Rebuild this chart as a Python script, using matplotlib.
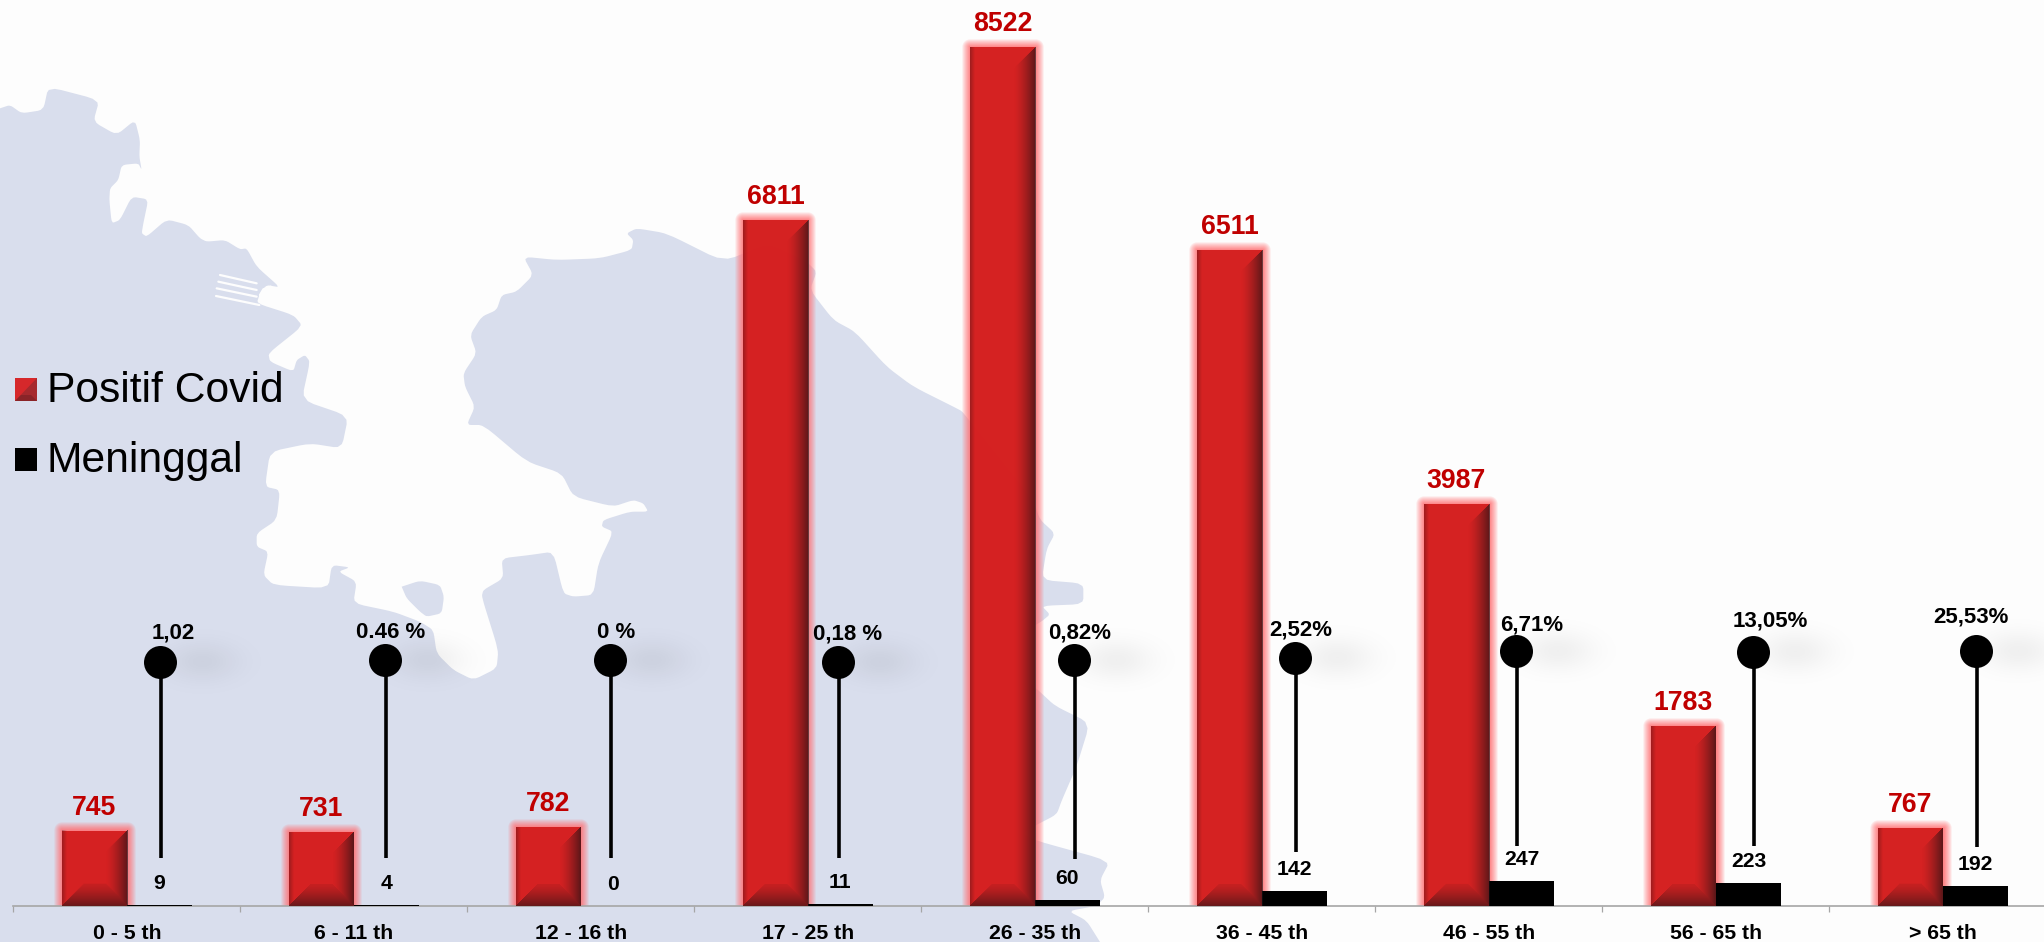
#!/usr/bin/env python3
"""Positive Covid cases and deaths by age group, with case fatality pins."""
import matplotlib
matplotlib.use("Agg")
import matplotlib.pyplot as plt
import numpy as np
from matplotlib.colors import to_rgb
from matplotlib.patches import Polygon, Rectangle

plt.rcParams["font.family"] = ["Liberation Sans", "DejaVu Sans"]

age_groups = ["0 - 5 th", "6 - 11 th", "12 - 16 th", "17 - 25 th", "26 - 35 th",
              "36 - 45 th", "46 - 55 th", "56 - 65 th", "> 65 th"]
positif = [745, 731, 782, 6811, 8522, 6511, 3987, 1783, 767]
meninggal = [9, 4, 0, 11, 60, 142, 247, 223, 192]
persen = ["1,02", "0.46 %", "0 %", "0,18 %", "0,82%", "2,52%", "6,71%", "13,05%", "25,53%"]

# pin layout (the pins are not to any scale of the data)
pin_x = [0.145, 0.137, 0.128, 0.132, 0.172, 0.145, 0.119, 0.163, 0.145]
pin_top = [2422, 2442, 2442, 2420, 2442, 2461, 2533, 2516, 2533]
pin_bottom = [473, 473, 473, 473, 463, 533, 595, 595, 585]
pct_dx = [13.7, 5.6, 6, 9.5, 6, 6, 15.4, 17, -4.7]
pct_dy = [29, 27, 27, 28, 27, 28, 26, 31, 34]

W, H = 2044, 942
GROUP_PX = 227.0
LEFT_PX = 13.4
BASE_PX = 905.6
PX_PER_UNIT = 0.1007
BAR_W = 65 / GROUP_PX
GLOW_PX = 8
BEVEL_PX = 22

RED = "#cf1212"
LABEL_RED = "#c00000"
LAND = "#d9deed"
PAPER = "#fdfdfd"
AXIS_GREY = "#a6a6a6"


def crop(points, ox, oy, sx=3.0, sy=3.0):
    return [(ox + x / sx, oy + y / sy) for x, y in points]


def smooth(points, rounds=2, cut=0.15):
    # corner cutting, the traced outline is too angular otherwise
    pts = np.array(points, dtype=float)
    for _ in range(rounds):
        a, b = pts[:-1], pts[1:]
        inner = np.column_stack([(1 - cut) * a + cut * b, cut * a + (1 - cut) * b]).reshape(-1, 2)
        pts = np.vstack([pts[0], inner, pts[-1]])
    return pts


coast = (
    crop([(0, 145), (30, 135), (65, 160), (130, 150), (145, 80), (298, 120), (280, 185), (350, 225),
          (405, 180), (420, 240), (418, 290), (425, 330), (415, 310), (365, 315), (355, 360), (330, 385),
          (328, 420), (335, 490), (360, 480), (395, 410), (445, 418), (430, 490), (425, 520), (440, 530),
          (500, 478), (565, 495), (600, 535), (620, 545), (675, 540), (720, 568), (740, 565), (770, 620),
          (840, 682), (800, 675), (780, 700), (770, 730), (880, 765), (908, 798), (805, 880), (810, 905),
          (880, 935), (890, 900), (915, 885), (930, 905), (905, 1020), (1045, 1068)], 0, 60)
    + crop([(365, 355), (270, 340), (150, 365), (135, 470), (180, 480), (170, 570), (110, 610), (110, 650),
            (145, 665), (130, 735), (160, 765), (325, 775), (335, 705), (390, 712), (355, 725), (410, 755),
            (400, 820), (520, 845), (600, 875), (640, 900), (650, 970), (700, 1020), (760, 1050), (830, 1015),
            (835, 960), (785, 800), (790, 780), (850, 745), (845, 685), (930, 675), (1000, 665), (1030, 790),
            (1060, 800), (1120, 795), (1135, 700), (1180, 605), (1145, 590), (1150, 570), (1230, 545),
            (1285, 545), (1270, 520), (1240, 510), (1180, 530), (1060, 500), (1025, 430), (920, 395),
            (790, 285), (740, 285), (765, 230), (735, 170), (730, 130), (770, 70)], 220, 330)
    + crop([(90, 405), (125, 350), (170, 330), (185, 285), (230, 275), (280, 225), (250, 170), (350, 180),
            (480, 175), (575, 150), (580, 120), (560, 100), (590, 85), (680, 100), (850, 185), (985, 130),
            (1100, 185), (1130, 215), (1110, 270), (1180, 360), (1245, 395), (1340, 500), (1420, 560),
            (1560, 630)], 440, 200)
    + crop([(190, 95), (400, 350), (420, 405), (465, 445), (440, 490), (425, 580), (550, 590), (550, 650),
            (425, 655), (450, 680), (425, 700), (390, 720), (390, 880), (415, 900), (465, 945), (570, 995),
            (530, 1120), (485, 1220), (470, 1260), (400, 1295), (370, 1315), (405, 1335), (630, 1395),
            (600, 1450), (615, 1500), (590, 1525), (505, 1540), (560, 1568)], 900, 380, 3.0, 2.9)
    + [(1100, 942)]
)
map_corners = [(1100, 960), (-20, 960), (-20, 108)]
bay = crop([(545, 770), (600, 752), (660, 765), (672, 800), (665, 850), (620, 860), (600, 845), (560, 805), (545, 770)], 220, 330)
port_lines = [[(660, 645), (770, 670)], [(655, 665), (770, 690)], [(650, 685), (770, 710)], [(648, 708), (778, 735)],
              [(812, 680), (790, 688), (780, 705), (795, 725)]]


def glow_alpha(w, h, pad):
    ys, xs = np.mgrid[0:h + pad, 0:w + 2 * pad]
    xs = xs + 0.5 - pad
    ys = ys + 0.5 - pad
    dx = np.maximum(np.maximum(-xs, xs - w), 0)
    dy = np.maximum(-ys, 0)
    dist = np.hypot(dx, dy)
    return 0.85 * np.clip(1 - dist / pad, 0, 1) ** 0.8


def bevel_rgba(w, h):
    ys, xs = np.mgrid[0:h, 0:w]
    dl, dr = xs + 0.5, w - xs - 0.5
    dt, db = ys + 0.5, h - ys - 0.5
    near = np.minimum.reduce([dl, dr, dt, db])
    rgba = np.zeros((h, w, 4))
    # right face: dark towards the edge
    face = (dr == near) & (dr < BEVEL_PX)
    rgba[..., 3][face] = 0.66 * (1 - dr[face] / BEVEL_PX) ** 1.5
    # bottom face
    face = (db == near) & (db < BEVEL_PX)
    rgba[..., 3][face] = 0.08 + 0.5 * (1 - db[face] / BEVEL_PX) ** 1.3
    # left face, narrow
    face = dl < 5
    rgba[..., 3][face] = np.maximum(rgba[..., 3][face], 0.3 * (1 - dl[face] / 5))
    rgba[..., :3] = (0.1, 0.07, 0.08)
    return rgba


fig = plt.figure(figsize=(W / 100, H / 100), dpi=100, facecolor=PAPER)

# background map and legend, in picture pixels
bg = fig.add_axes([0, 0, 1, 1])
bg.set_xlim(0, W)
bg.set_ylim(H, 0)
bg.axis("off")
outline = np.vstack([smooth(coast), map_corners])
bg.add_patch(Polygon(outline, closed=True, facecolor=LAND, edgecolor="none"))
bg.add_patch(Polygon(smooth(bay), closed=True, facecolor=LAND, edgecolor="none"))
for line in port_lines:
    pts = np.array(crop(line, 0, 60))
    bg.plot(pts[:, 0], pts[:, 1], color=PAPER, lw=1.6, solid_capstyle="round")

# legend
bg.add_patch(Rectangle((15, 378), 22, 23, facecolor="#d6282b", edgecolor="none"))
bg.add_patch(Polygon([(15, 401), (37, 401), (37, 378)], closed=True, facecolor="#a62a2e", edgecolor="none"))
bg.add_patch(Polygon([(15, 401), (37, 401), (31, 395), (21, 395)], closed=True, facecolor="#8a2428", edgecolor="none"))
bg.add_patch(Rectangle((15, 448), 22, 23, facecolor="black", edgecolor="none"))
bg.text(47, 402, "Positif Covid", fontsize=30.7, color="black", va="baseline")
bg.text(47, 472, "Meninggal", fontsize=30.7, color="black", va="baseline")

# chart
ax = fig.add_axes([LEFT_PX / W, (H - BASE_PX) / H, GROUP_PX * 9 / W, BASE_PX / H])
ax.patch.set_visible(False)
x = np.arange(len(age_groups))
ax.set_xlim(-0.5, 8.5)
ax.set_ylim(0, BASE_PX / PX_PER_UNIT)
ax.set_autoscale_on(False)

red_bars = ax.bar(x - BAR_W / 2, positif, BAR_W, color=RED, alpha=0.86, zorder=3)
ax.bar(x + BAR_W / 2, meninggal, BAR_W, color="black", zorder=3)

pink = np.array(to_rgb("#ff6f72"))
for bar in red_bars:
    x0, w_data, val = bar.get_x(), bar.get_width(), bar.get_height()
    w_px = int(round(w_data * GROUP_PX))
    h_px = max(int(round(val * PX_PER_UNIT)), 1)
    pad_x, pad_y = GLOW_PX / GROUP_PX, GLOW_PX / PX_PER_UNIT
    alpha = glow_alpha(w_px, h_px, GLOW_PX)
    glow = np.dstack([np.broadcast_to(pink, alpha.shape + (3,)), alpha])
    ax.imshow(glow, extent=(x0 - pad_x, x0 + w_data + pad_x, 0, val + pad_y), origin="upper",
              aspect="auto", interpolation="bilinear", zorder=2)
    ax.imshow(bevel_rgba(w_px, h_px), extent=(x0, x0 + w_data, 0, val), origin="upper",
              aspect="auto", interpolation="bilinear", zorder=4)

# soft smudge right of each pin head
ys, xs = np.mgrid[-40:41, -70:71]
smudge_alpha = 0.055 * np.exp(-(xs / 36.0) ** 2 - (ys / 20.0) ** 2)
smudge = np.dstack([np.zeros(smudge_alpha.shape + (3,)), smudge_alpha])
for xi, top in zip(x + np.array(pin_x), pin_top):
    ax.imshow(smudge, extent=(xi + (42 - 70) / GROUP_PX, xi + (42 + 70) / GROUP_PX,
                              top - 40 / PX_PER_UNIT, top + 40 / PX_PER_UNIT),
              aspect="auto", interpolation="bilinear", zorder=1)

pin_pos = x + np.array(pin_x)
ax.vlines(pin_pos + 1.5 / GROUP_PX, pin_bottom, pin_top, color="black", lw=2.6, zorder=5)
ax.plot(pin_pos, pin_top, "o", color="black", ms=33 * 0.72, mew=0, zorder=6)

for xi, top, label, dx, dy in zip(pin_pos, pin_top, persen, pct_dx, pct_dy):
    ax.annotate(label, (xi, top), xytext=(dx * 0.72, dy * 0.72), textcoords="offset points",
                ha="center", va="center", fontsize=16, fontweight="bold", color="black", zorder=7)
for xi, val in zip(x - BAR_W / 2, positif):
    ax.annotate(str(val), (xi, val), xytext=(0, 23 * 0.72), textcoords="offset points",
                ha="center", va="center", fontsize=19.2, fontweight="bold", color=LABEL_RED, zorder=7)
for xi, val in zip(x + BAR_W / 2, meninggal):
    ax.annotate(str(val), (xi, val), xytext=(0, 21.5 * 0.72), textcoords="offset points",
                ha="center", va="center", fontsize=15.2, fontweight="bold", color="black", zorder=7)

for side in ["top", "left", "right"]:
    ax.spines[side].set_visible(False)
ax.spines["bottom"].set_color(AXIS_GREY)
ax.spines["bottom"].set_linewidth(1.2)
ax.set_yticks([])
ax.set_xticks(np.arange(-0.5, 9, 1))
ax.set_xticklabels([])
ax.tick_params(axis="x", which="major", length=4.3, width=0.9, color=AXIS_GREY)
ax.set_xticks(x, minor=True)
ax.set_xticklabels(age_groups, minor=True, fontsize=15.3, fontweight="bold", color="black")
ax.tick_params(axis="x", which="minor", length=0, pad=13)

fig.savefig("out.png", dpi=100, facecolor=PAPER)
